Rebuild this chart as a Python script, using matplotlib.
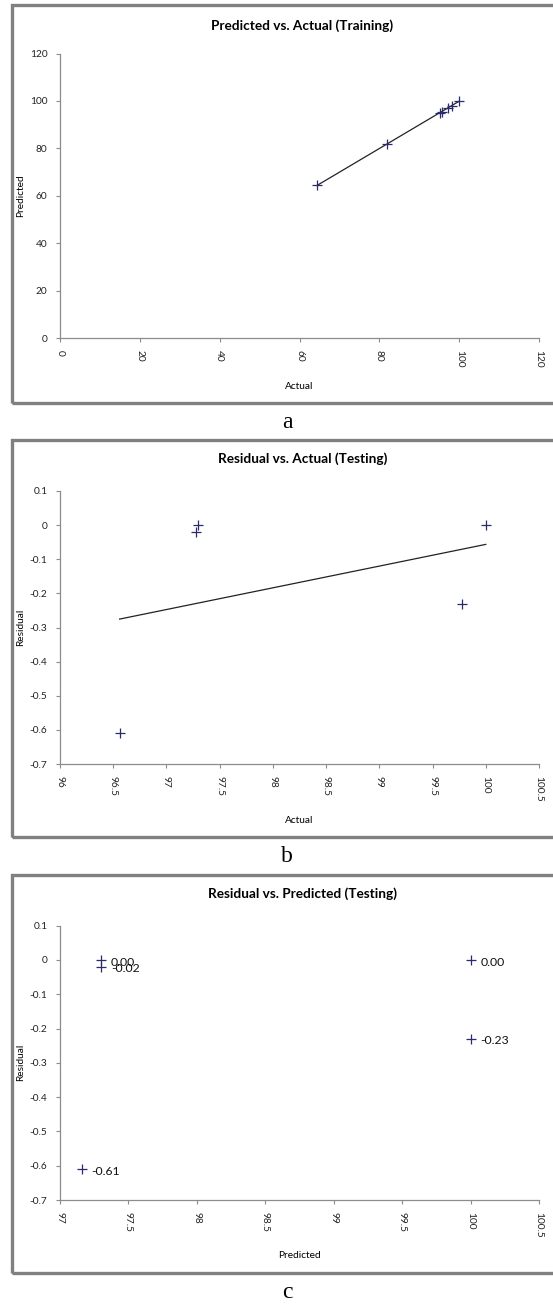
import matplotlib
matplotlib.use('Agg')
import matplotlib.pyplot as plt
from matplotlib.patches import Rectangle
import numpy as np

plt.rcParams['font.family'] = ['Lato', 'DejaVu Sans']

# training: actual vs predicted
train_actual = [64.5, 81.9, 95.1, 95.6, 97.3, 98.1, 100.0]
train_pred = [64.4, 82.0, 95.0, 95.5, 97.2, 98.0, 99.9]

# testing
test_actual = [96.56, 97.28, 97.30, 99.78, 100.0]
test_pred = [97.16, 97.30, 97.30, 100.0, 100.0]
test_resid = [-0.61, -0.02, 0.00, -0.23, 0.00]

resid_ticks = ['-0.7', '-0.6', '-0.5', '-0.4', '-0.3', '-0.2', '-0.1', '0', '0.1']

W, H = 553, 1305
fig = plt.figure(figsize=(W / 100, H / 100), dpi=100)

def px_axes(x0, x1, y_top, y_bot):
    return fig.add_axes([x0 / W, 1 - y_bot / H, (x1 - x0) / W, (y_bot - y_top) / H])

def frame(y_top, y_bot):
    r = Rectangle((12 / W, 1 - y_bot / H), 560 / W, (y_bot - y_top) / H,
                  transform=fig.transFigure, fill=False, edgecolor='#808080', lw=2.4)
    fig.add_artist(r)

def style(ax, xlabel, ylabel, y_top, y_bot, xlab_y, title, title_y):
    for s in ['top', 'right']:
        ax.spines[s].set_visible(False)
    for s in ['left', 'bottom']:
        ax.spines[s].set_color('#8c8c8c')
        ax.spines[s].set_linewidth(0.9)
    ax.tick_params(direction='out', length=3, width=0.8, color='#8c8c8c',
                   labelsize=7.3, labelcolor='#222222', pad=6)
    ax.tick_params(axis='x', labelrotation=-90)
    h = y_bot - y_top
    ax.set_xlabel(xlabel, fontsize=7.3)
    ax.xaxis.set_label_coords(0.5, -(xlab_y - y_bot) / h)
    ax.set_ylabel(ylabel, fontsize=7.3, va='center')
    ax.yaxis.set_label_coords((21 - 60) / 479, 0.5)
    fig.text(0.5 * (60 + 539) / W + 0.005, 1 - title_y / H, title, fontsize=9.8,
             fontweight='bold', ha='center', va='center')

mk = dict(marker='+', linestyle='none', color='#2b2b6b', markersize=7, mew=0.9)

# a
frame(5, 403)
ax = px_axes(60, 539, 53.6, 338)
ax.plot(train_actual, train_pred, **mk, zorder=3)
c = np.polyfit(train_actual, train_pred, 1)
xx = np.array([min(train_actual), max(train_actual)])
ax.plot(xx, np.polyval(c, xx), color='#222222', lw=0.9)
ax.set_xlim(0, 120)
ax.set_ylim(0, 120)
ax.set_xticks(np.arange(0, 121, 20))
ax.set_yticks(np.arange(0, 121, 20))
style(ax, 'Actual', 'Predicted', 53.6, 338, 382, 'Predicted vs. Actual (Training)', 26)
fig.text(287 / W, 1 - 423 / H, 'a', family='Liberation Serif', fontsize=17, ha='center', va='center')

# b
frame(440, 837)
ax = px_axes(60, 539, 491, 764)
ax.plot(test_actual, test_resid, **mk, zorder=3)
c = np.polyfit(test_actual, test_resid, 1)
xx = np.array([min(test_actual), max(test_actual)])
ax.plot(xx, np.polyval(c, xx), color='#222222', lw=0.9)
ax.set_xlim(96, 100.5)
ax.set_ylim(-0.7, 0.1)
ax.set_xticks(np.arange(96, 100.51, 0.5))
ax.set_xticklabels(['96', '96.5', '97', '97.5', '98', '98.5', '99', '99.5', '100', '100.5'])
ax.set_yticks(np.arange(-0.7, 0.11, 0.1))
ax.set_yticklabels(resid_ticks)
style(ax, 'Actual', 'Residual', 491, 764, 816, 'Residual vs. Actual (Testing)', 459)
fig.text(287 / W, 1 - 857 / H, 'b', family='Liberation Serif', fontsize=17, ha='center', va='center')

# c
frame(875, 1273)
ax = px_axes(60, 539, 925.7, 1200)
ax.plot(test_pred, test_resid, **mk, zorder=3)
for xv, yv in zip(test_pred, test_resid):
    ax.annotate('%.2f' % yv, (xv, yv), xytext=(7, -1.5), textcoords='offset points',
                fontsize=8.8, va='center', ha='left', color='#111111')
ax.set_xlim(97, 100.5)
ax.set_ylim(-0.7, 0.1)
ax.set_xticks(np.arange(97, 100.51, 0.5))
ax.set_xticklabels(['97', '97.5', '98', '98.5', '99', '99.5', '100', '100.5'])
ax.set_yticks(np.arange(-0.7, 0.11, 0.1))
ax.set_yticklabels(resid_ticks)
style(ax, 'Predicted', 'Residual', 925.7, 1200, 1251, 'Residual vs. Predicted (Testing)', 894)
fig.text(287 / W, 1 - 1293 / H, 'c', family='Liberation Serif', fontsize=17, ha='center', va='center')

fig.savefig('out.png', dpi=100)
